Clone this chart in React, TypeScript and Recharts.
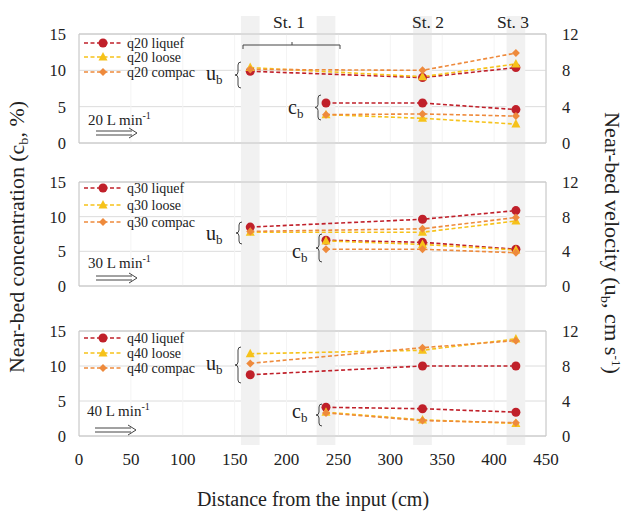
import React from "react";
import { ComposedChart, Line, XAxis, YAxis, CartesianGrid, ReferenceArea } from "recharts";

const serif = "'Liberation Serif', 'Times New Roman', serif";

const xTicks = [0, 50, 100, 150, 200, 250, 300, 350, 400, 450];
const concTicks = [0, 5, 10, 15];
const velTicks = [0, 4, 8, 12];
const ubDist = [165, 331, 421];
const cbDist = [238, 331, 421];
const bandCenters = [165, 238, 331, 421];
const stationLabels = ["St. 1", "St. 2", "St. 3"];

const q20UbLiquef = [7.9, 7.2, 8.3];
const q20UbLoose = [8.3, 7.3, 8.7];
const q20UbCompac = [8.1, 8.0, 9.9];
const q20CbLiquef = [5.5, 5.5, 4.6];
const q20CbLoose = [3.9, 3.4, 2.6];
const q20CbCompac = [3.9, 4.0, 3.7];

const q30UbLiquef = [6.8, 7.7, 8.7];
const q30UbLoose = [6.2, 6.2, 7.5];
const q30UbCompac = [6.3, 6.6, 7.9];
const q30CbLiquef = [6.6, 6.3, 5.3];
const q30CbLoose = [6.5, 6.0, 5.2];
const q30CbCompac = [5.3, 5.3, 4.8];

const q40UbLiquef = [7.0, 8.0, 8.0];
const q40UbLoose = [9.4, 9.8, 11.1];
const q40UbCompac = [8.3, 10.1, 10.9];
const q40CbLiquef = [4.1, 3.9, 3.4];
const q40CbLoose = [3.4, 2.3, 1.8];
const q40CbCompac = [3.3, 2.2, 1.9];

const RED = "#C0202A";
const GOLD = "#F6C21A";
const ORANGE = "#EE8A3C";

type Shape = "circle" | "triangle" | "diamond";
type Series = { name: string; ub: number[]; cb: number[]; color: string; shape: Shape };

const panel1: Series[] = [
  { name: "q20 liquef", ub: q20UbLiquef, cb: q20CbLiquef, color: RED, shape: "circle" },
  { name: "q20 loose", ub: q20UbLoose, cb: q20CbLoose, color: GOLD, shape: "triangle" },
  { name: "q20 compac", ub: q20UbCompac, cb: q20CbCompac, color: ORANGE, shape: "diamond" },
];
const panel2: Series[] = [
  { name: "q30 liquef", ub: q30UbLiquef, cb: q30CbLiquef, color: RED, shape: "circle" },
  { name: "q30 loose", ub: q30UbLoose, cb: q30CbLoose, color: GOLD, shape: "triangle" },
  { name: "q30 compac", ub: q30UbCompac, cb: q30CbCompac, color: ORANGE, shape: "diamond" },
];
const panel3: Series[] = [
  { name: "q40 liquef", ub: q40UbLiquef, cb: q40CbLiquef, color: RED, shape: "circle" },
  { name: "q40 loose", ub: q40UbLoose, cb: q40CbLoose, color: GOLD, shape: "triangle" },
  { name: "q40 compac", ub: q40UbCompac, cb: q40CbCompac, color: ORANGE, shape: "diamond" },
];

function marker(shape: Shape, color: string, cx: number, cy: number, key?: any) {
  if (shape === "circle") return <circle key={key} cx={cx} cy={cy} r={4.5} fill={color} />;
  if (shape === "triangle")
    return <path key={key} d={`M${cx} ${cy - 5} L${cx + 4.5} ${cy + 3.5} L${cx - 4.5} ${cy + 3.5} Z`} fill={color} />;
  return <path key={key} d={`M${cx} ${cy - 4} L${cx + 4} ${cy} L${cx} ${cy + 4} L${cx - 4} ${cy} Z`} fill={color} />;
}

const dotFor = (shape: Shape, color: string) => (p: any) => {
  if (p.cx == null || p.cy == null) return <g key={p.index} />;
  return marker(shape, color, p.cx, p.cy, p.index);
};

const toPoints = (xs: number[], vs: number[]) => xs.map((x, i) => ({ x, v: vs[i] }));

const tickStyle = { fontFamily: serif, fontSize: 16.5, fill: "#222" };

function Panel({ top, height, mt, mb, series, showX, bandTop, bandBottom }: any) {
  return (
    <div style={{ position: "absolute", left: 0, top }}>
      <ComposedChart width={627} height={height} margin={{ top: mt, right: 0, bottom: mb, left: 0 }}>
        {bandCenters.map((c) => (
          <ReferenceArea
            key={c}
            yAxisId="l"
            x1={c - 9}
            x2={c + 9}
            ifOverflow="visible"
            shape={(p: any) => <rect x={p.x} y={bandTop} width={p.width} height={bandBottom - bandTop} fill="#f1f1f1" />}
          />
        ))}
        <CartesianGrid yAxisId="l" vertical={false} stroke="#dcdcdc" />
        <CartesianGrid yAxisId="l" horizontal={false} stroke="#f4f4f4" />
        <ReferenceArea yAxisId="l" x1={0} x2={450} y1={0} y2={15} fill="none" stroke="#c4c4c4" ifOverflow="visible" />
        <XAxis
          type="number"
          dataKey="x"
          domain={[0, 450]}
          ticks={xTicks}
          interval={0}
          hide={!showX}
          tickLine={false}
          axisLine={false}
          tickSize={0}
          tickMargin={17}
          height={30}
          tick={{ ...tickStyle, fontSize: 17 }}
        />
        <YAxis
          yAxisId="l"
          domain={[0, 15]}
          ticks={concTicks}
          interval={0}
          width={79}
          tickLine={false}
          axisLine={false}
          tickSize={0}
          tickMargin={13}
          tick={tickStyle}
        />
        <YAxis
          yAxisId="r"
          orientation="right"
          domain={[0, 12]}
          ticks={velTicks}
          interval={0}
          width={81}
          tickLine={false}
          axisLine={false}
          tickSize={0}
          tickMargin={16}
          tick={{ ...tickStyle, textAnchor: "start" }}
        />
        {series.map((s: Series) => (
          <Line
            key={s.name + "ub"}
            yAxisId="r"
            data={toPoints(ubDist, s.ub)}
            dataKey="v"
            stroke={s.color}
            strokeWidth={1.6}
            strokeDasharray="4 2.5"
            dot={dotFor(s.shape, s.color)}
            activeDot={false}
            isAnimationActive={false}
          />
        ))}
        {series.map((s: Series) => (
          <Line
            key={s.name + "cb"}
            yAxisId="l"
            data={toPoints(cbDist, s.cb)}
            dataKey="v"
            stroke={s.color}
            strokeWidth={1.6}
            strokeDasharray="4 2.5"
            dot={dotFor(s.shape, s.color)}
            activeDot={false}
            isAnimationActive={false}
          />
        ))}
      </ComposedChart>
    </div>
  );
}

function Legend({ series, rows }: { series: Series[]; rows: number[] }) {
  return (
    <g>
      {series.map((s, i) => (
        <g key={s.name}>
          <line x1={84} x2={123} y1={rows[i]} y2={rows[i]} stroke={s.color} strokeWidth={1.6} strokeDasharray="4 2.5" />
          {marker(s.shape, s.color, 103, rows[i])}
          <text x={127} y={rows[i] + 5} fontSize={14} fontFamily={serif} fill="#222">
            {s.name}
          </text>
        </g>
      ))}
    </g>
  );
}

function Brace({ x, y1, y2 }: { x: number; y1: number; y2: number }) {
  const m = (y1 + y2) / 2;
  const d = `M${x} ${y1} Q${x - 3} ${y1} ${x - 3} ${y1 + 3} L${x - 3} ${m - 3} Q${x - 3} ${m} ${x - 6} ${m} Q${x - 3} ${m} ${x - 3} ${m + 3} L${x - 3} ${y2 - 3} Q${x - 3} ${y2} ${x} ${y2}`;
  return <path d={d} fill="none" stroke="#444" strokeWidth={1} />;
}

function Sub({ x, y, base, sub }: { x: number; y: number; base: string; sub: string }) {
  return (
    <text x={x} y={y} fontSize={20} fontFamily={serif} fill="#222">
      {base}
      <tspan fontSize={13} dy={4}>
        {sub}
      </tspan>
    </text>
  );
}

function Flow({ x, y, ay, q }: { x: number; y: number; ay: number; q: string }) {
  return (
    <g>
      <text x={x} y={y} fontSize={15} fontFamily={serif} fill="#222">
        {q} L min
        <tspan fontSize={10} dy={-6}>
          -1
        </tspan>
      </text>
      <path
        d={`M${x + 8} ${ay - 2} L${x + 44} ${ay - 2} M${x + 8} ${ay + 2} L${x + 44} ${ay + 2} M${x + 41} ${ay - 5} L${x + 49} ${ay} L${x + 41} ${ay + 5}`}
        fill="none"
        stroke="#444"
        strokeWidth={1}
      />
    </g>
  );
}

export default function App() {
  const st = { fontSize: 17.5, fontFamily: serif, fill: "#222", textAnchor: "middle" as const };
  return (
    <div style={{ position: "absolute", left: 0, top: 0, width: 627, height: 513, background: "#fff", overflow: "hidden" }}>
      <Panel top={0} height={160} mt={34} mb={17} series={panel1} showX={false} bandTop={16} bandBottom={160} />
      <Panel top={160} height={146} mt={22} mb={20} series={panel2} showX={false} bandTop={0} bandBottom={146} />
      <Panel top={306} height={180} mt={25} mb={20} series={panel3} showX={true} bandTop={0} bandBottom={139} />
      <svg width={627} height={513} style={{ position: "absolute", left: 0, top: 0, pointerEvents: "none" }}>
        <text x={289} y={28} {...st}>{stationLabels[0]}</text>
        <text x={428} y={28} {...st}>{stationLabels[1]}</text>
        <text x={513} y={28} {...st}>{stationLabels[2]}</text>
        <path d="M243 49 L243 45 L340 45 L340 49 M292 45 L292 42" fill="none" stroke="#444" strokeWidth={1} />

        <Legend series={panel1} rows={[43, 57, 72]} />
        <Legend series={panel2} rows={[188, 205, 222]} />
        <Legend series={panel3} rows={[338, 353, 368]} />

        <Sub x={206} y={80} base="u" sub="b" />
        <Brace x={241} y1={62} y2={88} />
        <Sub x={288} y={114} base="c" sub="b" />
        <Brace x={321} y1={95} y2={120} />
        <Flow x={88} y={125} ay={133} q="20" />

        <Sub x={206} y={240} base="u" sub="b" />
        <Brace x={242} y1={222} y2={244} />
        <Sub x={292} y={258} base="c" sub="b" />
        <Brace x={322} y1={234} y2={262} />
        <Flow x={88} y={268} ay={278} q="30" />

        <Sub x={206} y={370} base="u" sub="b" />
        <Brace x={241} y1={347} y2={383} />
        <Sub x={292} y={418} base="c" sub="b" />
        <Brace x={322} y1={404} y2={426} />
        <Flow x={87} y={416} ay={430} q="40" />

        <text
          transform="translate(24,237) rotate(-90)"
          textAnchor="middle"
          fontSize={20}
          fontFamily={serif}
          fill="#222"
          textLength={272}
          lengthAdjust="spacingAndGlyphs"
        >
          Near-bed concentration (c<tspan fontSize={13} dy={4}>b</tspan>
          <tspan dy={-4}>, %)</tspan>
        </text>
        <text
          transform="translate(605,243) rotate(90)"
          textAnchor="middle"
          fontSize={20}
          fontFamily={serif}
          fill="#222"
          textLength={262}
          lengthAdjust="spacingAndGlyphs"
        >
          Near-bed velocity (u<tspan fontSize={13} dy={4}>b</tspan>
          <tspan dy={-4}>, cm s</tspan>
          <tspan fontSize={12} dy={-7}>-1</tspan>
          <tspan dy={7}>)</tspan>
        </text>
        <text x={313} y={506} textAnchor="middle" fontSize={20} fontFamily={serif} fill="#222">
          Distance from the input (cm)
        </text>
      </svg>
    </div>
  );
}
